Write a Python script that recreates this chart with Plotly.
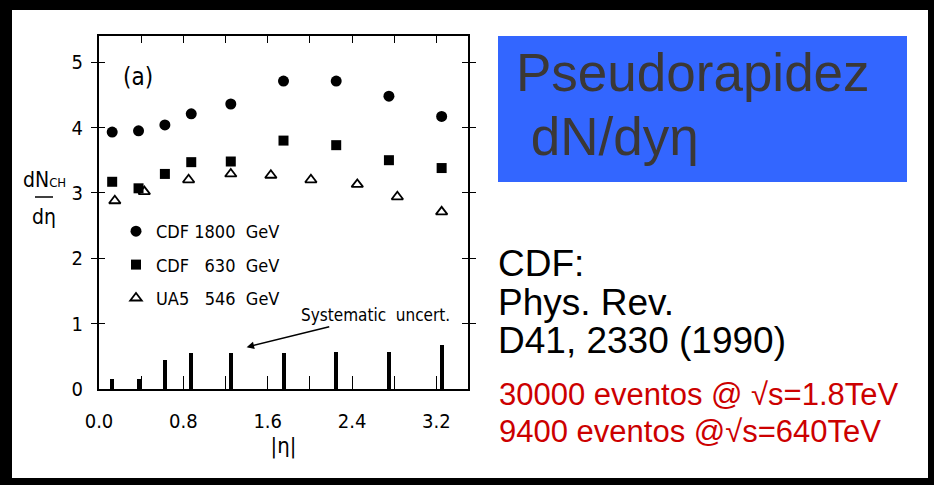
import plotly.graph_objects as go

# Charged-particle pseudorapidity density, |eta| bins
eta_cdf = [0.125, 0.375, 0.625, 0.875, 1.25, 1.75, 2.25, 2.75, 3.25]
dn_cdf_1800 = [3.93, 3.95, 4.04, 4.21, 4.36, 4.71, 4.71, 4.48, 4.17]
dn_cdf_630 = [3.17, 3.07, 3.29, 3.47, 3.48, 3.80, 3.73, 3.50, 3.38]
eta_ua5 = [0.15, 0.43, 0.85, 1.25, 1.63, 2.01, 2.45, 2.83, 3.25]
dn_ua5_546 = [2.88, 3.02, 3.20, 3.29, 3.27, 3.20, 3.13, 2.94, 2.71]
syst_uncert = [0.15, 0.15, 0.44, 0.55, 0.55, 0.55, 0.56, 0.57, 0.68]

series_names = ["CDF\u00a01800\u00a0\u00a0GeV", "CDF\u00a0\u00a0\u00a0630\u00a0\u00a0GeV",
                "UA5\u00a0\u00a0\u00a0546\u00a0\u00a0GeV"]

W, H = 934, 485
FIG_FONT = "DejaVu Sans Condensed, Liberation Sans Narrow, Arial Narrow, sans-serif"
SLIDE_FONT = "Liberation Sans, Arial, sans-serif"


def px_x(p):
    return p / W


def px_y(p):
    return 1 - p / H


fig = go.Figure()

fig.add_trace(go.Bar(
    x=eta_cdf, y=syst_uncert, width=0.038, marker=dict(color="black", line=dict(width=0)),
    showlegend=False, hoverinfo="skip"))

fig.add_trace(go.Scatter(
    x=eta_cdf, y=dn_cdf_1800, mode="markers", name=series_names[0], legendgroup="a",
    marker=dict(symbol="circle", size=11, color="black")))
fig.add_trace(go.Scatter(
    x=eta_cdf, y=dn_cdf_630, mode="markers", name=series_names[1], legendgroup="b",
    marker=dict(symbol="square", size=10, color="black")))
fig.add_trace(go.Scatter(
    x=eta_ua5, y=dn_ua5_546, mode="markers", name=series_names[2], legendgroup="c",
    marker=dict(symbol="triangle-up-open", size=10, color="black", line=dict(width=1.8))))

x_dom = [px_x(99), px_x(468)]
y_dom = [px_y(389), px_y(36)]

fig.update_layout(
    width=W, height=H, margin=dict(l=0, r=0, t=0, b=0, pad=0, autoexpand=False),
    paper_bgcolor="black", plot_bgcolor="white",
    font=dict(family=FIG_FONT, color="black", size=20),
    bargap=0,
    xaxis=dict(
        domain=x_dom, range=[0, 3.5], tickmode="linear", tick0=0, dtick=0.8, tickformat=".1f",
        ticks="inside", ticklen=13, tickwidth=1, tickcolor="black",
        minor=dict(tickmode="linear", tick0=0, dtick=0.4, ticks="inside", ticklen=13,
                   tickwidth=1, tickcolor="black", showgrid=False),
        showline=True, linecolor="black", linewidth=2, mirror=True,
        showgrid=False, zeroline=False, ticklabelstandoff=13, automargin=False,
        tickfont=dict(size=20, family=FIG_FONT),
        title=dict(text="|η|", font=dict(size=22, family=FIG_FONT), standoff=4),
    ),
    xaxis2=dict(
        domain=x_dom, range=[0, 3.5], overlaying="x", side="top", anchor="y",
        tickmode="linear", tick0=0, dtick=0.4, showticklabels=False,
        ticks="inside", ticklen=7, tickwidth=1, tickcolor="black", automargin=False,
        showline=False, showgrid=False, zeroline=False,
    ),
    yaxis=dict(
        domain=y_dom, range=[0, 5.4], tickmode="linear", tick0=0, dtick=1,
        ticks="inside", ticklen=6, tickwidth=1, tickcolor="black",
        showline=True, linecolor="black", linewidth=2, mirror="allticks",
        showgrid=False, zeroline=False, ticklabelstandoff=10, automargin=False,
        tickfont=dict(size=20, family=FIG_FONT),
    ),
    legend=dict(
        x=px_x(116), y=px_y(213), xanchor="left", yanchor="top",
        bgcolor="rgba(0,0,0,0)", font=dict(size=18, family=FIG_FONT),
        tracegroupgap=7, traceorder="grouped", itemwidth=30,
    ),
)

# hidden trace so the top tick axis is drawn
fig.add_trace(go.Scatter(x=[0], y=[0], xaxis="x2", mode="markers", marker=dict(opacity=0),
                         showlegend=False, hoverinfo="skip"))

shapes = [
    # white slide area inside the black frame
    dict(type="rect", xref="paper", yref="paper", x0=px_x(12), x1=px_x(928), y0=px_y(478), y1=px_y(10),
         fillcolor="white", line=dict(width=0), layer="below"),
    # blue title box
    dict(type="rect", xref="paper", yref="paper", x0=px_x(498), x1=px_x(907), y0=px_y(182), y1=px_y(36),
         fillcolor="#3366ff", line=dict(width=0), layer="below"),
    # fraction bar of the y-axis label
    dict(type="line", xref="paper", yref="paper", x0=px_x(35), x1=px_x(53), y0=px_y(197), y1=px_y(197),
         line=dict(color="black", width=1.5)),
]
fig.update_layout(shapes=shapes)

ann = []
# y-axis label as a fraction
ann.append(dict(xref="paper", yref="paper", x=px_x(44), y=px_y(180),
                text="dN<span style='font-size:13px'>CH</span>",
                showarrow=False, xanchor="center", yanchor="middle", font=dict(size=21, family=FIG_FONT)))
ann.append(dict(xref="paper", yref="paper", x=px_x(44), y=px_y(217), text="dη",
                showarrow=False, xanchor="center", yanchor="middle", font=dict(size=21, family=FIG_FONT)))
# panel tag
ann.append(dict(xref="x", yref="y", x=0.37, y=4.78, text="(a)", showarrow=False,
                font=dict(size=24, family=FIG_FONT)))
# systematic uncertainty pointer
ann.append(dict(xref="x", yref="y", x=1.40, y=0.64, text="Systematic\u00a0\u00a0uncert.",
                showarrow=True, arrowhead=2, arrowsize=1, arrowwidth=1.5, arrowcolor="black",
                ax=129, ay=-32, font=dict(size=17, family=FIG_FONT)))

# slide text on the right
ann.append(dict(xref="paper", yref="paper", x=px_x(514), y=px_y(72), text="Pseudorapidez",
                showarrow=False, xanchor="left", yanchor="middle",
                font=dict(size=53, family=SLIDE_FONT, color="#3b3836")))
ann.append(dict(xref="paper", yref="paper", x=px_x(514), y=px_y(136), text="\u00a0dN/dyη",
                showarrow=False, xanchor="left", yanchor="middle",
                font=dict(size=53, family=SLIDE_FONT, color="#3b3836")))

black_lines = ["CDF:", "Phys. Rev.", "D41, 2330 (1990)"]
black_base = [276, 315, 353]
for t, b in zip(black_lines, black_base):
    ann.append(dict(xref="paper", yref="paper", x=px_x(496), y=px_y(b - 13), text=t,
                    showarrow=False, xanchor="left", yanchor="middle",
                    font=dict(size=37, family=SLIDE_FONT, color="black")))

red_lines = ["30000 eventos @ √s=1.8TeV", "9400 eventos @√s=640TeV"]
red_base = [405, 442]
for t, b in zip(red_lines, red_base):
    ann.append(dict(xref="paper", yref="paper", x=px_x(497), y=px_y(b - 11), text=t,
                    showarrow=False, xanchor="left", yanchor="middle",
                    font=dict(size=31, family=SLIDE_FONT, color="#cc0000")))

fig.update_layout(annotations=ann)

fig.write_html("out.html")
